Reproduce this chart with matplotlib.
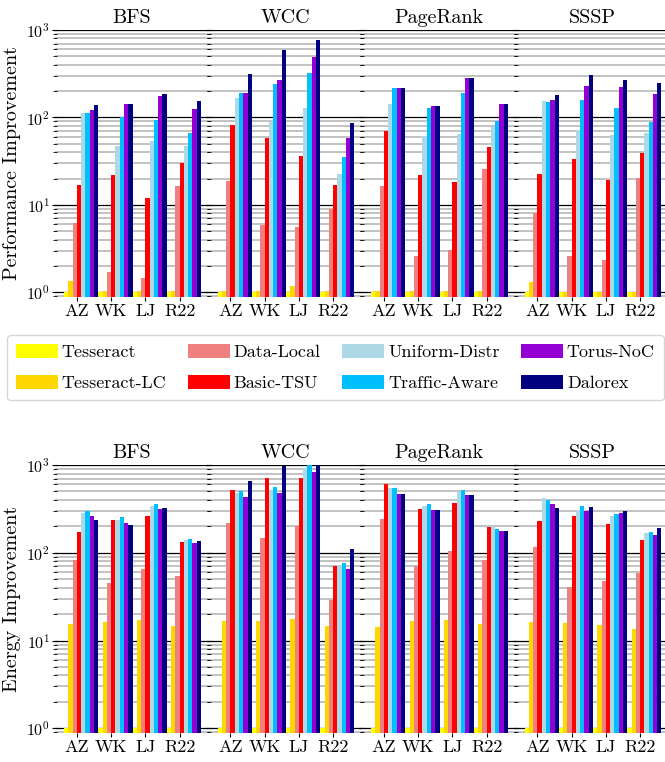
#!/usr/bin/env python3

import numpy as np
import matplotlib
matplotlib.use('Agg')
import matplotlib.pyplot as plt

plt.rcParams['font.family'] = ['cmr10', 'DejaVu Serif']
plt.rcParams['mathtext.fontset'] = 'cm'
plt.rcParams['mathtext.default'] = 'rm'
plt.rcParams['axes.formatter.use_mathtext'] = True

datasets = ['AZ', 'WK', 'LJ', 'R22']
algos = ['BFS', 'WCC', 'PageRank', 'SSSP']
series = ['Tesseract', 'Tesseract-LC', 'Data-Local', 'Basic-TSU',
          'Uniform-Distr', 'Traffic-Aware', 'Torus-NoC', 'Dalorex']
colors = ['#FFFF00', '#FFD700', '#F08080', '#FF0000',
          '#ADD8E6', '#00BFFF', '#9400D3', '#000080']

# rows = series, columns = datasets (AZ, WK, LJ, R22)
perf_bfs = [[1.0, 1.0, 1.0, 1.0],
            [1.34, 1.05, 1.05, 1.05],
            [6.2, 1.71, 1.46, 16.4],
            [16.8, 21.9, 12, 30],
            [113, 47, 54, 47],
            [113, 100, 93, 66],
            [122, 142, 176, 126],
            [139, 142, 185, 154]]
perf_wcc = [[1.0, 1.0, 1.0, 1.0],
            [1.03, 1.05, 1.17, 1.05],
            [18.7, 5.85, 5.55, 9.0],
            [82, 58.6, 36, 16.8],
            [167, 89, 128, 22.5],
            [190, 241, 323, 35],
            [190, 268, 492, 58],
            [314, 591, 770, 86]]
perf_pr = [[1.0, 1.0, 1.0, 1.0],
           [1.03, 1.03, 1.03, 1.03],
           [16.4, 2.58, 3.03, 25.6],
           [70, 21.9, 18.2, 45.8],
           [142, 61, 64.5, 77.6],
           [217, 128, 190, 91],
           [217, 135, 283, 142],
           [217, 135, 283, 142]]
perf_sssp = [[1.0, 1.0, 1.0, 1.0],
             [1.30, 1.0, 1.02, 1.02],
             [8.0, 2.58, 2.33, 20.2],
             [22.5, 33.4, 19.2, 39],
             [154, 72, 63, 66],
             [150, 158, 128, 89],
             [158, 229, 223, 185],
             [181, 306, 268, 248]]

energy_bfs = [[1.0, 1.0, 1.0, 1.0],
              [15.6, 16.4, 17.3, 14.8],
              [83, 45.6, 65.8, 54.8],
              [173, 237, 263, 133],
              [285, 237, 342, 141],
              [300, 256, 360, 144],
              [263, 219, 316, 130],
              [237, 208, 325, 137]]
energy_wcc = [[1.0, 1.0, 1.0, 1.0],
              [16.9, 16.9, 17.8, 14.8],
              [219, 148, 203, 29.2],
              [520, 711, 711, 71],
              [481, 520, 925, 73],
              [507, 562, 992, 77],
              [433, 481, 832, 66],
              [658, 974, 1000, 111]]
energy_pr = [[1.0, 1.0, 1.0, 1.0],
             [14.4, 16.9, 17.3, 15.6],
             [243, 71, 105, 83],
             [608, 316, 370, 197],
             [548, 342, 493, 203],
             [548, 360, 520, 187],
             [468, 308, 456, 178],
             [468, 308, 456, 178]]
energy_sssp = [[1.0, 1.0, 1.0, 1.0],
               [16.4, 16.0, 15.2, 13.7],
               [117, 41, 48, 59],
               [231, 263, 214, 141],
               [422, 308, 263, 169],
               [400, 342, 277, 173],
               [360, 300, 285, 160],
               [325, 333, 300, 192]]

perf = [perf_bfs, perf_wcc, perf_pr, perf_sssp]
energy = [energy_bfs, energy_wcc, energy_pr, energy_sssp]


def draw_row(fig, data, bottom, height, ylabel):
	left = 55 / 665.
	width = 153.5 / 665.
	x = np.arange(len(datasets))
	w = 0.125
	axes = []
	for k, name in enumerate(algos):
		ax = fig.add_axes([left + k * width, bottom, width, height])
		ax.set_yscale('log')
		for j, s in enumerate(series):
			ax.bar(x + (j - 3) * w, data[k][j], width=w, align='edge',
			       color=colors[j], linewidth=0, label=s, zorder=3)
		ax.set_xlim(-0.64, 3.845)
		ax.set_ylim(0.885, 1000)
		ax.set_xticks(x)
		ax.set_xticklabels(datasets, fontsize=13)
		ax.set_title(name, fontsize=14.5, pad=5)
		ax.grid(True, which='major', axis='y', color='black', lw=0.9, zorder=0)
		ax.grid(True, which='minor', axis='y', color='0.72', lw=1.2, zorder=0)
		ax.set_axisbelow(True)
		for sp in ax.spines.values():
			sp.set_visible(False)
		ax.tick_params(axis='y', which='both', left=True, right=True,
		               direction='inout', color='black')
		ax.tick_params(axis='y', which='major', length=5, width=0.8, labelsize=11.5, pad=1)
		ax.tick_params(axis='y', which='minor', length=3, width=0.6)
		ax.tick_params(axis='x', direction='out', length=3, width=0.8, pad=2)
		if k == 0:
			ax.set_ylabel(ylabel, fontsize=14.5, labelpad=4)
		else:
			ax.tick_params(axis='y', which='both', labelleft=False)
		axes.append(ax)
	return axes


fig = plt.figure(figsize=(6.65, 7.62), dpi=100)

top_axes = draw_row(fig, perf, 1 - 297 / 762., 267 / 762., 'Performance Improvement')
draw_row(fig, energy, 1 - 733 / 762., 268 / 762., 'Energy Improvement')

handles, labels = top_axes[0].get_legend_handles_labels()
fig.legend(handles, labels, loc='upper left', bbox_to_anchor=(7 / 665., 1 - 335 / 762.),
           ncol=4, fontsize=13, handlelength=2.33, handleheight=0.85,
           handletextpad=0.2, columnspacing=1.2, labelspacing=0.8,
           borderpad=0.5, borderaxespad=0, frameon=True, fancybox=True)

plt.savefig('out.png', dpi=100)
